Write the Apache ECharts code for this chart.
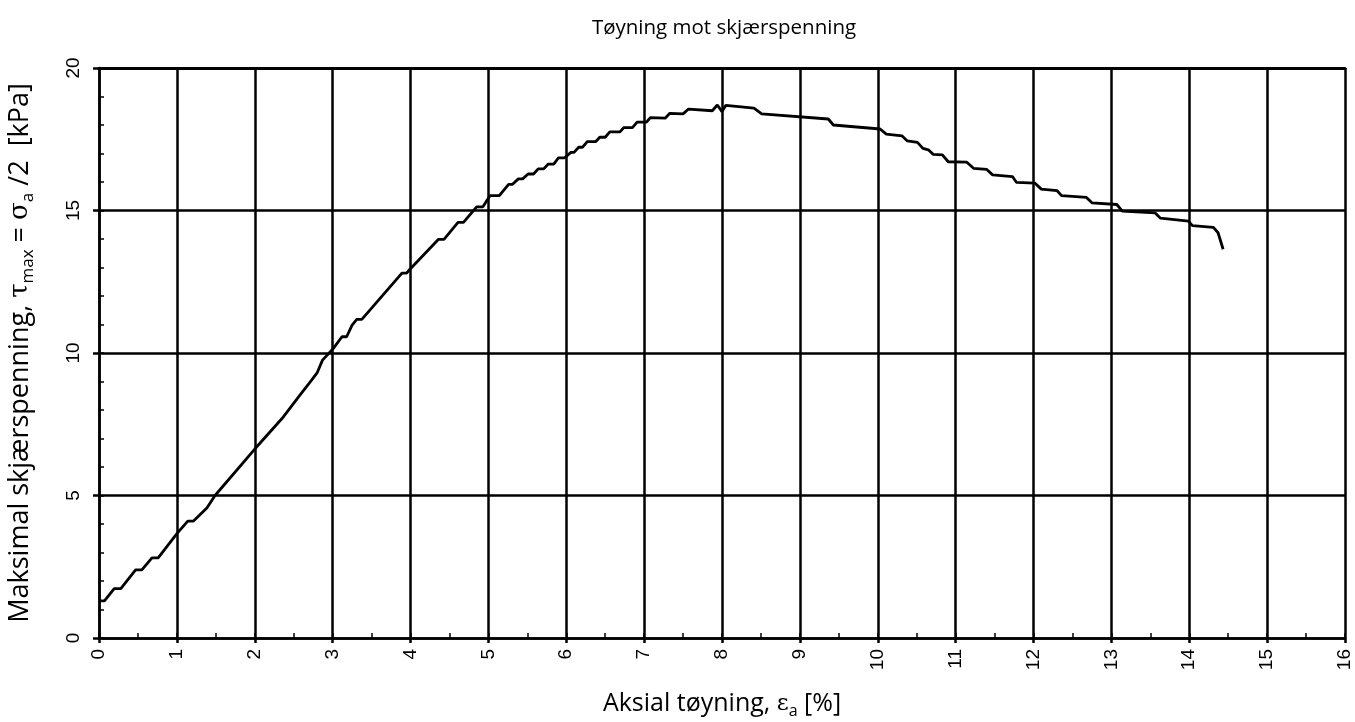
<!DOCTYPE html>
<html>
<head>
<meta charset="utf-8">
<title>Tøyning mot skjærspenning</title>
<script src="https://cdn.jsdelivr.net/npm/echarts@6/dist/echarts.min.js"></script>
<style>
  html, body { margin: 0; padding: 0; background: #ffffff; }
  #chart { width: 1355px; height: 722px; }
</style>
</head>
<body>
<div id="chart"></div>
<script>
// Axial strain [%]
const strain = [
  0, 0.07, 0.195, 0.28, 0.47, 0.55, 0.68, 0.76, 1.0, 1.14, 1.21, 1.385, 1.49,
  2.0, 2.35, 2.58, 2.73, 2.80, 2.87, 3.0, 3.12, 3.18, 3.25, 3.31, 3.375, 3.74,
  3.89, 3.95, 3.99, 4.36, 4.43, 4.61, 4.68, 4.85, 4.93, 5.02, 5.14, 5.26, 5.31,
  5.385, 5.44, 5.51, 5.58, 5.64, 5.71, 5.77, 5.84, 5.90, 5.98, 6.06, 6.10, 6.16,
  6.21, 6.27, 6.38, 6.43, 6.50, 6.56, 6.69, 6.74, 6.85, 6.91, 7.03, 7.08, 7.27,
  7.33, 7.50, 7.57, 7.875, 7.94, 8.0, 8.05, 8.41, 8.51, 9.365, 9.43, 10.03,
  10.11, 10.31, 10.38, 10.51, 10.58, 10.65, 10.71, 10.83, 10.905, 11.14, 11.23,
  11.40, 11.475, 11.73, 11.78, 12.02, 12.10, 12.30, 12.36, 12.68, 12.75, 13.07,
  13.14, 13.56, 13.63, 13.99, 14.04, 14.31, 14.37, 14.435
];

// Maximum shear stress [kPa]
const shearStress = [
  1.30, 1.30, 1.73, 1.73, 2.39, 2.39, 2.81, 2.81, 3.66, 4.10, 4.10, 4.56, 5.00,
  6.63, 7.70, 8.52, 9.05, 9.30, 9.75, 10.13, 10.57, 10.57, 10.98, 11.18, 11.18, 12.33,
  12.80, 12.80, 12.93, 13.99, 13.99, 14.58, 14.58, 15.13, 15.13, 15.52, 15.52, 15.92, 15.92,
  16.11, 16.11, 16.28, 16.28, 16.46, 16.46, 16.63, 16.63, 16.85, 16.85, 17.04, 17.04, 17.22,
  17.22, 17.42, 17.42, 17.57, 17.57, 17.76, 17.76, 17.91, 17.91, 18.10, 18.10, 18.26, 18.24,
  18.41, 18.39, 18.56, 18.50, 18.70, 18.47, 18.69, 18.59, 18.39, 18.21, 18.00, 17.86,
  17.68, 17.62, 17.44, 17.39, 17.18, 17.13, 16.97, 16.95, 16.71, 16.70, 16.48,
  16.44, 16.25, 16.19, 15.99, 15.96, 15.75, 15.70, 15.52, 15.46, 15.27, 15.21,
  14.98, 14.92, 14.73, 14.63, 14.47, 14.41, 14.22, 13.64
];

const xTicks = { min: 0, max: 16, step: 1, minorStep: 0.5 };
const yTicks = { min: 0, max: 20, step: 5, minorStep: 1 };

const points = strain.map((x, i) => [x, shearStress[i]]);

const black = '#000000';
const tickFont = 'Liberation Sans, Arial, sans-serif';
const textFont = 'Open Sans, Noto Sans, sans-serif';
const gridWidth = 2.5;

const chart = echarts.init(document.getElementById('chart'), null, { renderer: 'canvas' });

chart.setOption({
  backgroundColor: '#ffffff',
  animation: false,
  title: {
    text: 'Tøyning mot skjærspenning',
    left: 719,
    top: 13,
    textAlign: 'center',
    textStyle: { fontFamily: textFont, fontSize: 20.5, fontWeight: 'normal', color: black }
  },
  grid: { left: 99, right: 10, top: 68, bottom: 84, containLabel: false, outerBoundsMode: 'none' },
  xAxis: [
    {
      type: 'value',
      min: xTicks.min, max: xTicks.max, interval: xTicks.step,
      position: 'bottom',
      name: 'Aksial tøyning, {g|ε}{sub|a} [%]',
      nameLocation: 'middle',
      nameGap: 51,
      nameTextStyle: {
        fontFamily: textFont, fontSize: 25, color: black, lineHeight: 30,
        rich: {
          g: { fontFamily: 'DejaVu Serif, serif', fontSize: 23, color: black, lineHeight: 30 },
          sub: { fontFamily: textFont, fontSize: 16, color: black, lineHeight: 16, verticalAlign: 'bottom' }
        }
      },
      axisLine: { show: true, onZero: false, lineStyle: { color: black, width: gridWidth } },
      axisTick: { show: true, inside: false, length: 5, lineStyle: { color: black, width: gridWidth } },
      axisLabel: { rotate: 90, margin: 11, fontFamily: tickFont, fontSize: 19, color: black },
      splitLine: { show: true, lineStyle: { color: black, width: gridWidth } }
    },
    {
      type: 'value',
      min: xTicks.min, max: xTicks.max, interval: xTicks.minorStep,
      position: 'bottom',
      axisLine: { show: false },
      axisTick: { show: true, inside: true, length: 5, lineStyle: { color: black, width: 1.5 } },
      axisLabel: { show: false },
      splitLine: { show: false }
    },
    {
      type: 'value',
      min: xTicks.min, max: xTicks.max, interval: xTicks.step,
      position: 'top',
      axisLine: { show: true, onZero: false, lineStyle: { color: black, width: 3 } },
      axisTick: { show: false },
      axisLabel: { show: false },
      splitLine: { show: false }
    }
  ],
  yAxis: [
    {
      type: 'value',
      min: yTicks.min, max: yTicks.max, interval: yTicks.step,
      position: 'left',
      name: 'Maksimal skjærspenning, {g|τ}{sub|max} = {g|σ}{sub|a} /2  [kPa]',
      nameLocation: 'middle',
      nameGap: 62,
      nameTextStyle: {
        fontFamily: textFont, fontSize: 27, color: black, lineHeight: 33,
        rich: {
          g: { fontFamily: 'DejaVu Serif, serif', fontSize: 26, color: black, lineHeight: 33 },
          sub: { fontFamily: textFont, fontSize: 17, color: black, lineHeight: 17, verticalAlign: 'bottom' }
        }
      },
      axisLine: { show: true, onZero: false, lineStyle: { color: black, width: gridWidth } },
      axisTick: { show: true, inside: false, length: 6, lineStyle: { color: black, width: gridWidth } },
      axisLabel: { rotate: 90, margin: 16, fontFamily: tickFont, fontSize: 19, color: black },
      splitLine: { show: true, lineStyle: { color: black, width: gridWidth } }
    },
    {
      type: 'value',
      min: yTicks.min, max: yTicks.max, interval: yTicks.minorStep,
      position: 'left',
      axisLine: { show: false },
      axisTick: { show: true, inside: true, length: 5, lineStyle: { color: black, width: 1.5 } },
      axisLabel: { show: false },
      splitLine: { show: false }
    }
  ],
  series: [
    {
      type: 'line',
      name: 'Skjærspenning',
      xAxisIndex: 0,
      yAxisIndex: 0,
      data: points,
      showSymbol: false,
      smooth: false,
      lineStyle: { color: black, width: 2.8 },
      z: 5
    }
  ]
});
</script>
</body>
</html>
